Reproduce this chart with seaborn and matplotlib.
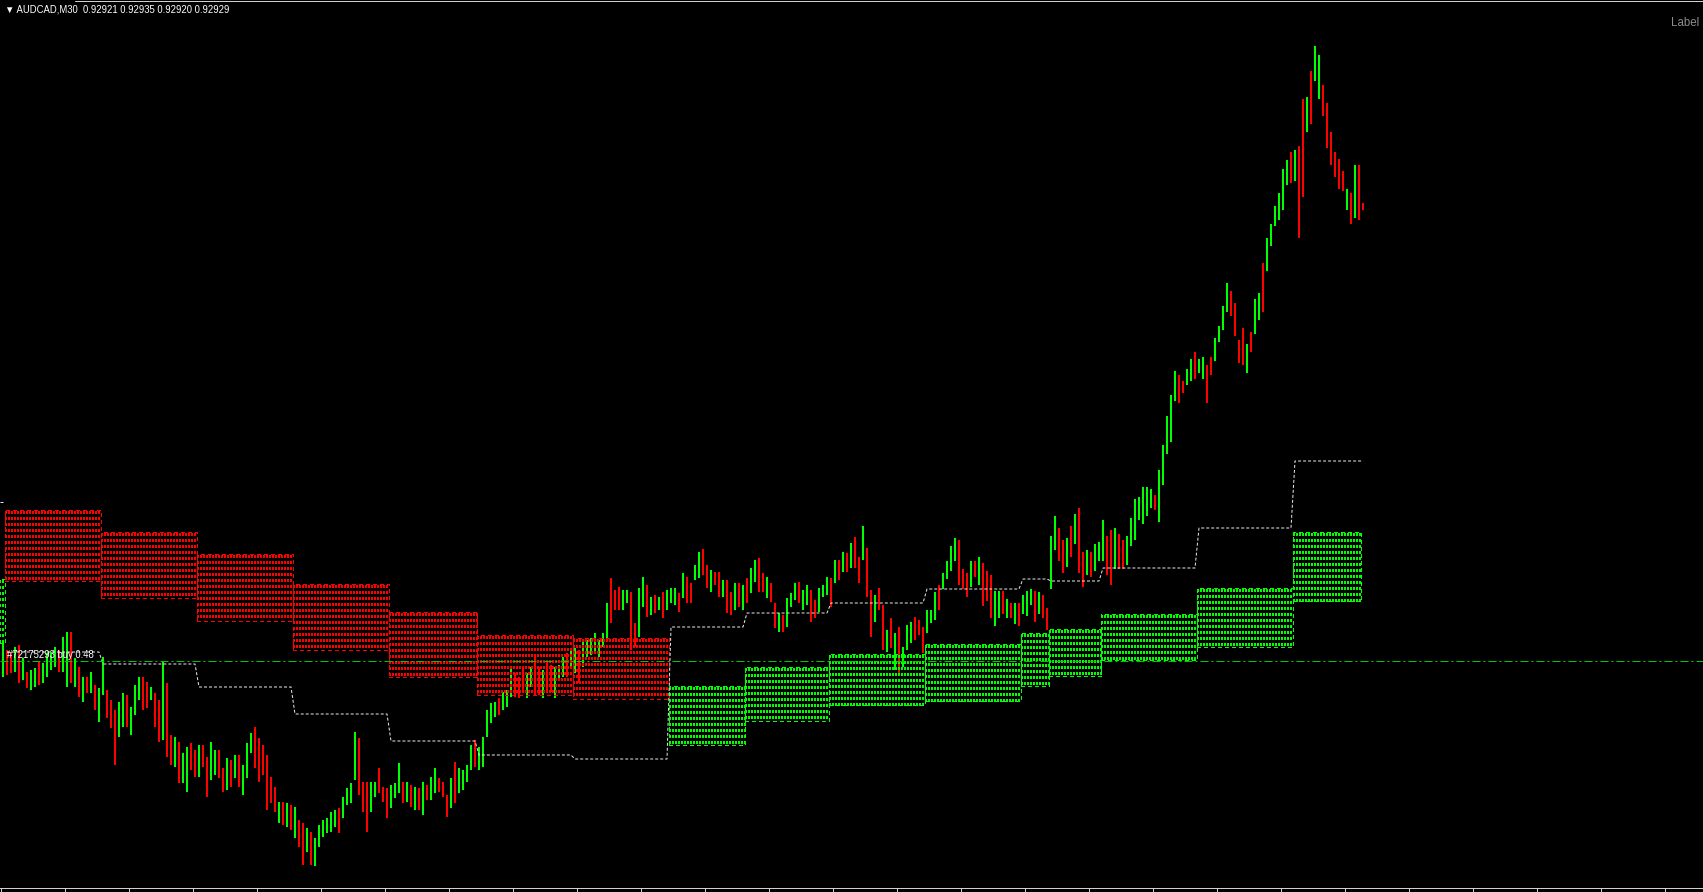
import numpy as np
import matplotlib
matplotlib.use("Agg")
import matplotlib.pyplot as plt
import matplotlib.transforms as mtransforms
from matplotlib.patches import Rectangle
import seaborn as sns

# Chart header
symbol = "AUDCAD,M30"
last_ohlc = [0.92921, 0.92935, 0.92920, 0.92929]
base_price = 0.92134   # prices below are stored in points above this
point = 0.00001

# One bar per hour (two M30 candles), high / low in points above base_price
bar_high = [
    357, 350, 347, 353, 355, 342, 328, 330, 332, 338, 337, 347, 348, 353, 350, 363, 368, 368, 342, 333, 323, 323, 328, 315, 312,
    343, 310, 300, 290, 298, 307, 305, 293, 315, 323, 323, 318, 313, 307, 300, 338, 317, 265, 263, 258, 247, 253, 257, 250,
    255, 255, 243, 258, 250, 250, 232, 242, 240, 245, 245, 235, 257, 267, 273, 262, 255, 245, 223, 213, 198, 198, 197, 195,
    193, 180, 177, 172, 168, 162, 175, 180, 182, 188, 190, 192, 203, 212, 217, 268, 262, 218, 218, 218, 218, 232, 213, 212,
    215, 217, 237, 218, 218, 215, 213, 212, 218, 215, 223, 232, 222, 218, 205, 222, 238, 232, 230, 235, 255, 260,
    253, 263, 290, 297, 298, 302, 308, 310, 332, 327, 323, 333, 327, 333, 343, 333, 330, 337, 335, 333, 335, 343, 347, 350,
    352, 350, 360, 360, 362, 367, 360, 367, 397, 422, 410, 413, 410, 410, 408, 377, 412, 423, 415, 403, 405, 403, 408, 410,
    412, 412, 407, 427, 423, 417, 435, 448, 451, 435, 430, 428, 428, 420, 420, 408, 417, 417, 415,
    422, 432, 440, 442, 427, 423, 417, 397, 387, 385, 402, 407, 417, 418, 410, 415, 410, 400, 412, 415, 423,
    422, 440, 440, 448, 447, 457, 463, 443, 474, 452, 410, 405, 412, 395, 370, 382, 367, 373, 353, 375, 378, 383, 380, 373,
    390, 390, 408, 415, 427, 439, 454, 462, 460, 431, 427, 439, 439, 443, 437, 429, 425, 409, 409, 409, 401, 397, 397, 397,
    405, 409, 411, 409, 408, 405, 392,
    464, 484, 472, 460, 462, 474, 486, 492, 448, 450, 448, 456, 458,
    480, 464, 470, 472, 466, 460, 464, 482, 501, 503, 513, 513, 511, 505, 530, 555, 584, 605, 629, 625, 619, 631, 641, 648,
    641, 643, 635, 643, 662, 674, 694, 717, 709, 697, 660, 672, 656, 668, 701, 707, 737, 762, 776, 794, 807, 831, 840, 848,
    850, 854, 901, 903, 929, 954, 945, 915, 897, 868, 848, 841, 829, 811, 807, 835, 835, 797,
]
bar_low = [
    323, 325, 327, 328, 317, 320, 312, 310, 313, 315, 317, 323, 330, 333, 328, 328, 313, 317, 313, 303, 298, 307, 307, 290, 278,
    305, 282, 272, 235, 263, 273, 273, 265, 285, 300, 290, 292, 300, 273, 258, 260, 243, 235, 233, 217, 217, 208, 230, 223,
    223, 233, 203, 220, 225, 222, 208, 210, 213, 222, 213, 205, 222, 247, 232, 218, 225, 190, 197, 188, 177, 175, 173, 170,
    162, 153, 135, 148, 135, 134, 153, 163, 167, 168, 173, 167, 182, 195, 197, 220, 205, 188, 168, 188, 203, 207, 198, 182,
    192, 202, 207, 197, 198, 193, 190, 190, 185, 200, 200, 207, 208, 203, 183, 192, 197, 207, 210, 218, 230, 233,
    230, 233, 263, 277, 283, 285, 290, 293, 303, 303, 302, 308, 302, 313, 305, 305, 302, 310, 308, 302, 320, 323, 323, 333,
    327, 317, 333, 343, 345, 347, 343, 353, 362, 377, 390, 390, 390, 397, 350, 353, 363, 393, 383, 385, 387, 390, 382, 390,
    397, 395, 388, 402, 397, 397, 420, 422, 425, 412, 408, 415, 403, 403, 387, 385, 390, 393, 390,
    397, 407, 418, 408, 408, 402, 398, 372, 368, 368, 373, 393, 400, 397, 390, 395, 378, 382, 388, 403, 405,
    393, 417, 420, 428, 428, 432, 432, 417, 440, 403, 363, 378, 390, 350, 348, 352, 330, 327, 333, 350, 357, 360, 365, 347,
    367, 377, 380, 390, 411, 421, 429, 439, 415, 411, 403, 413, 423, 415, 394, 399, 382, 374, 382, 386, 382, 382, 376, 374,
    386, 384, 395, 378, 386, 382, 370,
    411, 450, 439, 427, 433, 443, 456, 427, 413, 425, 423, 429, 439,
    439, 425, 415, 431, 431, 431, 435, 454, 460, 480, 476, 484, 492, 490, 478, 515, 546, 558, 599, 597, 607, 615, 619, 621,
    627, 621, 597, 625, 639, 658, 670, 688, 684, 664, 637, 635, 627, 648, 666, 680, 688, 729, 754, 774, 780, 790, 815, 817,
    819, 762, 803, 868, 876, 919, 901, 884, 852, 835, 823, 811, 809, 790, 776, 782, 780, 790,
]
# g = bullish bar, r = bearish bar
bar_dir = ("grrgrgrggrggggrggrgrgrgrg" "grrrggrgggrrgrrgrrgrggrr" "grrggrrgrgrgggrrrrrrgrgr"
           "grrgrggggggrggggrrrggrrr" "gggrgrgrgrggrrrgrggggr" "gggggrgggrrrggrrgrrgggrg"
           "grgggggggrrrggrrggrgrgrg" "ggrgrrggrrgrrgrrgrg" "rggrrgrrgrgggrggrrggg"
           "rgrgrgrrgrrgrrgrgrgggrrr" "gggrggggrrrgrgrrrggrgrgr" "gggrgrr" "ggrrgrgrrgrgg"
           "grrgrrgggggggrgggggrrggrg" "grrggggrrrrgrggrggggggrg" "rrgrggrrrrrrgrgrrg")

# Daily supply / demand zones (first bar of each day, top / bottom in points)
day_first_bar = [-23, 1, 25, 49, 73, 97, 119, 143, 167, 186, 207, 231, 255, 262, 275, 299, 323]
last_bar = 340
zone_top = [421, 490, 468, 446, 416, 388, 365, 362, 314, 333, 346, 356, 367, 371, 386, 412, 468]
zone_bottom = [357, 419, 402, 379, 350, 323, 305, 301, 255, 279, 295, 299, 314, 324, 340, 353, 399]
zone_side = ["buy", "sell", "sell", "sell", "sell", "sell", "sell", "sell",
             "buy", "buy", "buy", "buy", "buy", "buy", "buy", "buy", "buy"]
day_level = [498, 348, 336, 313, 286, 259, 245, 241, 373, 387, 397, 411, 421, 419, 432, 472, 539]

# Open order line
order_level = 339
order_label = "#72175293 buy 0.48"

W, H, DPI = 1703, 892, 72

sns.set_theme(style="dark", rc={"axes.facecolor": "black", "figure.facecolor": "black",
                                "savefig.facecolor": "black", "axes.grid": False})
plt.rcParams["font.family"] = ["Liberation Sans", "DejaVu Sans"]
plt.rcParams["lines.scale_dashes"] = False

fig = plt.figure(figsize=(W / DPI, H / DPI), dpi=DPI)
ax = fig.add_axes([0, 4.5 / H, 1, 887.5 / H])
ax.set_facecolor("black")

bull, bear = "#00ff00", "#ff0000"
hi = base_price + np.array(bar_high) * point
lo = base_price + np.array(bar_low) * point
xs = np.arange(len(bar_high))
cols = [bull if c == "g" else bear for c in bar_dir]
ax.vlines(xs, lo, hi, colors=cols, linewidth=2, antialiased=False, zorder=2)

# zones: rows of small vertical ticks inside a dashed frame
edges = day_first_bar + [last_bar]
for z in range(len(zone_top)):
    x0, x1 = edges[z] - 0.5, edges[z + 1] - 0.5
    c = bull if zone_side[z] == "buy" else bear
    rows = np.arange(zone_top[z] - 1.7, zone_bottom[z], -6.0)
    ax.hlines(base_price + rows * point, x0, x1, colors=c, linewidth=3.3,
              linestyles=[(0, (1, 1))], antialiased=False, zorder=3)
    ax.add_patch(Rectangle((x0, base_price + zone_bottom[z] * point), x1 - x0,
                           (zone_top[z] - zone_bottom[z]) * point, fill=False,
                           edgecolor=c, linewidth=1, linestyle=(0, (3, 3)),
                           antialiased=False, zorder=3))

# daily level, dashed step line (the previous day only shows as a stub)
level_col = "#e6e6e6"
day_idx = np.searchsorted(day_first_bar, xs, side="right") - 1
levels = base_price + np.array(day_level)[day_idx] * point
sns.lineplot(x=xs[1:], y=levels[1:], color=level_col, linewidth=1, linestyle=(0, (3, 2)),
             estimator=None, errorbar=None, ax=ax, zorder=4)
ax.hlines(levels[0], -0.75, 0, colors=level_col, linewidth=1, zorder=4)

order_price = base_price + order_level * point
ax.axhline(order_price, color="#00c800", linewidth=1, linestyle=(0, (8, 3, 2, 3)), zorder=4)
trans = mtransforms.blended_transform_factory(ax.transAxes, ax.transData)
ax.text(7 / W, order_price + 6 * point, order_label, transform=trans, va="center", ha="left",
        color="white", fontsize=9.5, zorder=5)

ax.set_xlim(-0.75, (W - 3) / 4)
ax.set_ylim(base_price + (1000 - 887.5) * point, base_price + 1000 * point)
ax.set_xticks(np.arange(-0.625, (W - 3) / 4, 16))
ax.set_yticks([])
ax.tick_params(axis="x", direction="out", length=4, width=1, color="#d0d0d0",
               labelbottom=False, bottom=True)
for side in ["left", "right", "top"]:
    ax.spines[side].set_visible(False)
ax.spines["bottom"].set_color("#d0d0d0")
ax.spines["bottom"].set_linewidth(1)
ax.set_xlabel("")
ax.set_ylabel("")

# window top border and header texts
fig.add_artist(plt.Line2D([75 / W, 1], [1 - 0.5 / H, 1 - 0.5 / H], color="#d0d0d0", linewidth=1,
                          transform=fig.transFigure))
header = "\u25bc " + symbol + "  " + " ".join(f"{v:.5f}" for v in last_ohlc)
fig.text(5 / W, 1 - 9 / H, header, color="white", fontsize=9.5, va="center", ha="left")
fig.text(1699 / W, 1 - 23 / H, "Label", color="#8c8c8c", fontsize=11.5, va="center", ha="right")

fig.savefig("out.png", dpi=DPI, facecolor="black")
